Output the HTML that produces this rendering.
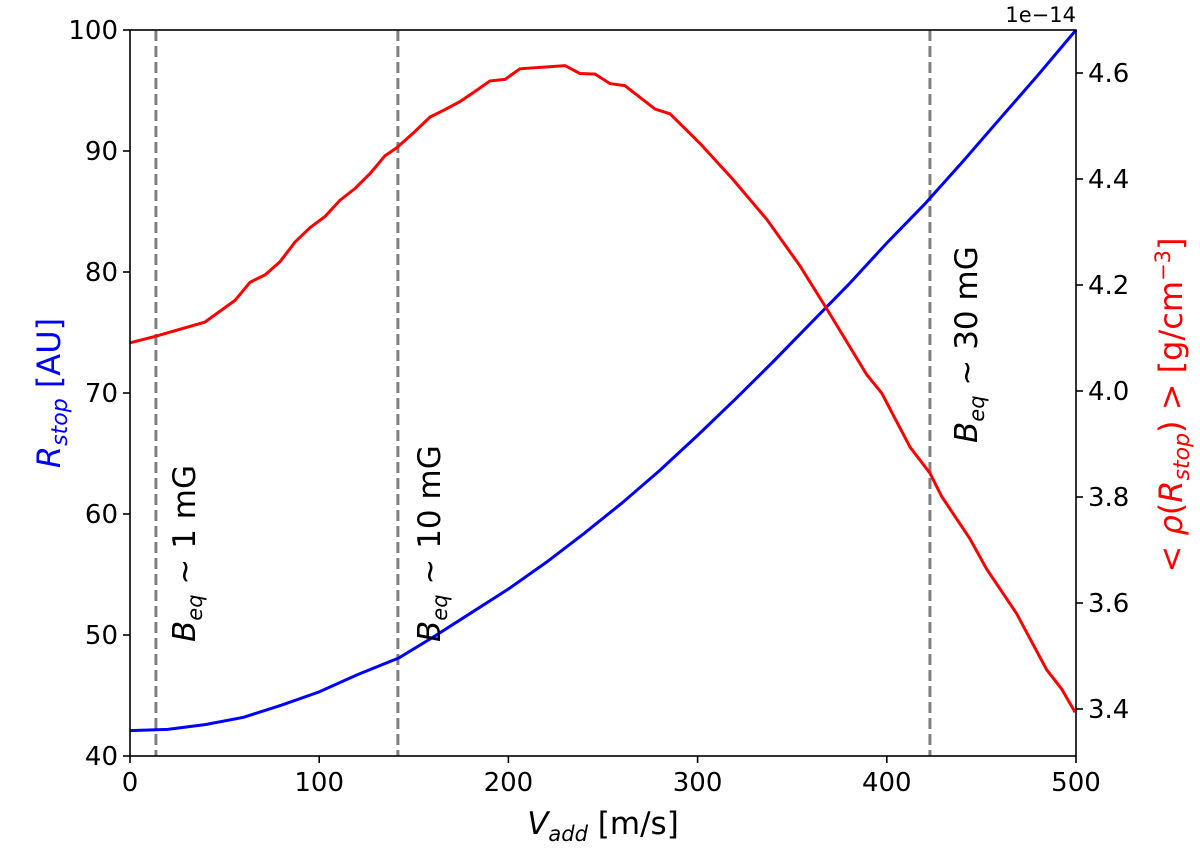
<!DOCTYPE html>
<html><head><meta charset="utf-8"><style>
body{margin:0;background:#fff}
svg text{font-family:"DejaVu Sans","Liberation Sans",sans-serif}
</style></head><body>
<svg id="chart" width="1200" height="846" viewBox="0 0 1200 846">
<g id="g"></g>
</svg>
<script>
const blueX=[0,20,40,60,80,100,120,142,160,180,200,220,240,260,280,300,320,340,360,380,400,420,440,460,480,500];
const blueY=[42.1,42.2,42.6,43.2,44.2,45.3,46.7,48.1,49.8,51.8,53.8,56.0,58.4,60.9,63.6,66.5,69.5,72.6,75.8,79.0,82.4,85.6,89.1,92.7,96.3,100];
const redX=[0,13.2,39.6,55.5,63.4,71.4,79.3,87.2,95.1,103,111,118.9,126.8,134.8,141,149.8,158.6,166.5,174.4,182.3,190.3,198.2,206.1,229.9,237.8,245.8,253.7,261.6,277.5,285.4,301.3,318.7,336.5,354.1,369,389.4,397.3,412.3,422.8,429,444,452.8,468.6,484.5,492.4,499.5];
const redY=[4.091,4.103,4.130,4.171,4.205,4.219,4.244,4.281,4.308,4.329,4.360,4.382,4.410,4.444,4.459,4.487,4.517,4.531,4.546,4.565,4.585,4.588,4.608,4.614,4.599,4.598,4.580,4.576,4.532,4.523,4.467,4.399,4.324,4.236,4.151,4.031,3.996,3.894,3.845,3.801,3.721,3.664,3.580,3.474,3.438,3.394];
const xTicks=[0,100,200,300,400,500];
const yTicks=[40,50,60,70,80,90,100];
const y2Ticks=[3.4,3.6,3.8,4.0,4.2,4.4,4.6];
const y2Labels=["3.4","3.6","3.8","4.0","4.2","4.4","4.6"];
const vlines=[13.7,141.6,422.8];
const vlineLabels=["1","10","30"];
const L=130,R=1076,T=30,B=756;
const sx=v=>L+(v-0)/(500-0)*(R-L);
const sy=v=>B-(v-40)/(100-40)*(B-T);
const sy2=v=>73+(4.6-v)/0.2*106;
const NS="http://www.w3.org/2000/svg";
const g=document.getElementById('g');
function mk(t,a,txt){const e=document.createElementNS(NS,t);for(const k in a)e.setAttribute(k,a[k]);if(txt!==undefined)e.textContent=txt;g.appendChild(e);return e;}
vlines.forEach((v,i)=>{
 const l=mk('line',{x1:sx(v),x2:sx(v),y1:T,y2:B,stroke:'#808080','stroke-width':3,'stroke-dasharray':'11,5'});
 
 
});
let d=blueX.map((x,i)=>(i?'L':'M')+sx(x).toFixed(1)+','+sy(blueY[i]).toFixed(1)).join('');
let p=mk('path',{d:d,fill:'none',stroke:'#0000ff','stroke-width':3});


d=redX.map((x,i)=>(i?'L':'M')+sx(x).toFixed(1)+','+sy2(redY[i]).toFixed(1)).join('');
p=mk('path',{d:d,fill:'none',stroke:'#ff0000','stroke-width':3});


const f=mk('rect',{x:L,y:T,width:R-L,height:B-T,fill:'none',stroke:'#000','stroke-width':1.6});


xTicks.forEach(v=>{
 mk('line',{x1:sx(v),x2:sx(v),y1:B,y2:B+7,stroke:'#000','stroke-width':1.6});
 const t=mk('text',{x:sx(v),y:B+35,'font-size':26,'text-anchor':'middle'},String(v));
 
 
});
yTicks.forEach(v=>{
 mk('line',{x1:L-7,x2:L,y1:sy(v),y2:sy(v),stroke:'#000','stroke-width':1.6});
 const t=mk('text',{x:L-12,y:sy(v)+9,'font-size':26,'text-anchor':'end'},String(v));
 
 
});
y2Ticks.forEach((v,i)=>{
 mk('line',{x1:R,x2:R+7,y1:sy2(v),y2:sy2(v),stroke:'#000','stroke-width':1.6});
 const t=mk('text',{x:R+12,y:sy2(v)+9,'font-size':26,'text-anchor':'start'},y2Labels[i]);
 
 
});
</script>
<svg width="1200" height="846" style="position:absolute;left:0;top:0">
<text x="1076" y="22" font-size="21" text-anchor="end">1e−14</text>
<text x="603" y="834" font-size="31" text-anchor="middle"><tspan font-style="italic">V</tspan><tspan font-style="italic" font-size="21" dy="7">add</tspan><tspan dy="-7"> [m/s]</tspan></text>
<text transform="translate(60,393) rotate(-90)" font-size="32" text-anchor="middle" fill="#0000ff"><tspan font-style="italic">R</tspan><tspan font-style="italic" font-size="22" dy="7">stop</tspan><tspan dy="-7"> [AU]</tspan></text>
<text transform="translate(1182,405) rotate(-90)" font-size="32" text-anchor="middle" fill="#ff0000">&lt; <tspan font-style="italic">ρ</tspan>(<tspan font-style="italic">R</tspan><tspan font-style="italic" font-size="22" dy="7">stop</tspan><tspan dy="-7">) &gt; [g/cm</tspan><tspan font-size="21" dy="-12">−3</tspan><tspan dy="12">]</tspan></text>
<text transform="translate(195,642) rotate(-90)" font-size="31"><tspan font-style="italic">B</tspan><tspan font-style="italic" font-size="21" dy="7">eq</tspan><tspan dy="-7"> ~ 1 mG</tspan></text>
<text transform="translate(440,642) rotate(-90)" font-size="31"><tspan font-style="italic">B</tspan><tspan font-style="italic" font-size="21" dy="7">eq</tspan><tspan dy="-7"> ~ 10 mG</tspan></text>
<text transform="translate(977,443) rotate(-90)" font-size="31"><tspan font-style="italic">B</tspan><tspan font-style="italic" font-size="21" dy="7">eq</tspan><tspan dy="-7"> ~ 30 mG</tspan></text>
</svg>
</body></html>
